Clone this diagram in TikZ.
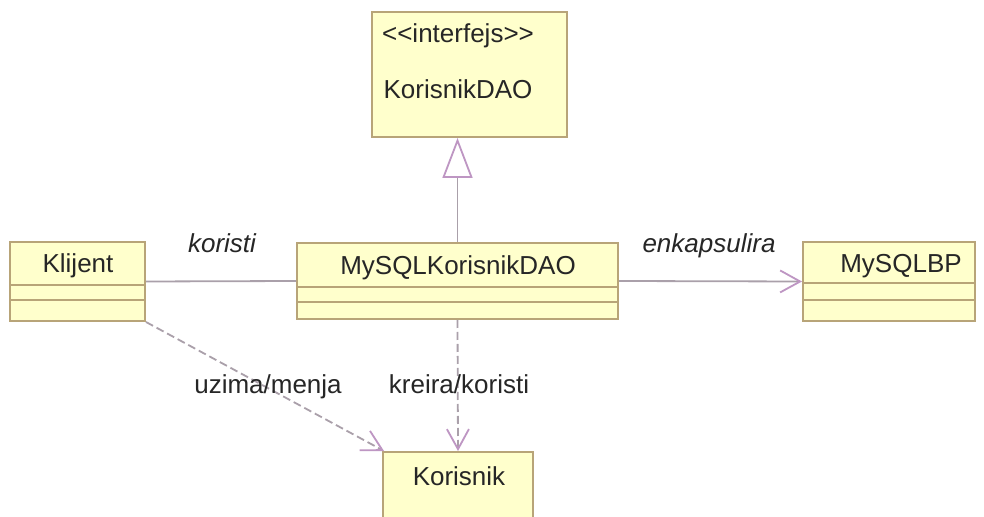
\documentclass[tikz,border=0pt]{standalone}
\usepackage{fontspec}
\setmainfont{Liberation Sans}
\usetikzlibrary{arrows.meta,fit}

\definecolor{klasafill}{RGB}{255,255,204}
\definecolor{klasarub}{RGB}{184,164,120}
\definecolor{vezaboja}{RGB}{170,160,170}
\definecolor{vrhboja}{RGB}{190,150,195}

\begin{document}
\begin{tikzpicture}[x=0.5pt, y=-0.5pt,
        klasa/.style={draw=klasarub, fill=klasafill, line width=1pt, inner sep=0pt},
        ime/.style={anchor=base, font=\fontsize{13}{15}\selectfont, text=black!85},
        uloga/.style={ime, font=\fontsize{13}{15}\selectfont\itshape},
        veza/.style={draw=vezaboja, line width=0.9pt},
        zavisi/.style={veza, dashed, dash pattern=on 4pt off 2pt,
            -{Straight Barb[length=10pt, width=11pt, color=vrhboja]}}]
        \useasboundingbox[fill=white] (0,0) rectangle (984,517);
        \clip (0,0) rectangle (984,517);

        % Classes
        \node[klasa, fit={(372,12) (567,137)}] (iface) {};
        \node[klasa, fit={(10,242) (145,321)}] (klijent) {};
        \node[klasa, fit={(297,243) (618,319)}] (dao) {};
        \node[klasa, fit={(803,242) (975,321)}] (bp) {};
        \node[klasa, fit={(383,452) (533,532)}] (korisnik) {};

        % Compartments
        \foreach \k/\a/\b in {klijent/285/300, dao/287/302, bp/283/300} {
            \draw[klasarub, line width=1pt] (\k.west |- 0,\a) -- (\k.east |- 0,\a);
            \draw[klasarub, line width=1pt] (\k.west |- 0,\b) -- (\k.east |- 0,\b);
        }

        % Class names
        \node[ime] (stereotip) at (458,43) {<\kern0pt<interfejs>\kern0pt>};
        \node[ime] (ifaceime) at (458,99) {KorisnikDAO};
        \node[ime] (klijentime) at (78,273) {Klijent};
        \node[ime] (daoime) at (458,275) {MySQLKorisnikDAO};
        \node[ime] (bpime) at (901,273) {MySQLBP};
        \node[ime] (korisnikime) at (459,486) {Korisnik};

        % Relations
        \draw[veza, -{Triangle[open, length=20pt, width=15pt, color=vrhboja, fill=white]}]
            (dao.north) -- (dao.north |- iface.south);
        \draw[veza] (klijent.east) -- (dao.west);
        \draw[veza, -{Straight Barb[length=10pt, width=11pt, color=vrhboja]}] (dao.east) -- (bp.west);
        \draw[zavisi] (dao.south) -- (korisnik.north);
        \draw[zavisi] (klijent.south east) -- ([xshift=1pt]korisnik.north west);

        % Labels
        \node[uloga] (koristi) at (222,253) {koristi};
        \node[uloga] (enkapsulira) at (709,253) {enkapsulira};
        \node[ime] (uzima) at (268,394) {uzima/menja};
        \node[ime] (kreira) at (459,394) {kreira/koristi};
    \end{tikzpicture}
\end{document}
